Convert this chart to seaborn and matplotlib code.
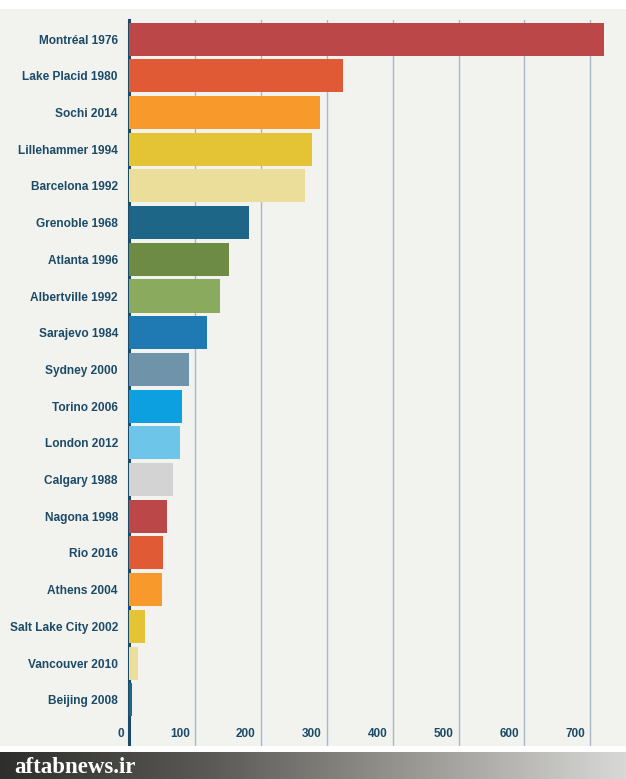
import numpy as np
import matplotlib
matplotlib.use("Agg")
import matplotlib.pyplot as plt
import matplotlib.transforms as mtransforms
import seaborn as sns

sns.set_theme(style="white")
plt.rcParams['font.family'] = ['Liberation Sans', 'DejaVu Sans']

cities = ['Montréal 1976', 'Lake Placid 1980', 'Sochi 2014', 'Lillehammer 1994',
          'Barcelona 1992', 'Grenoble 1968', 'Atlanta 1996', 'Albertville 1992',
          'Sarajevo 1984', 'Sydney 2000', 'Torino 2006', 'London 2012',
          'Calgary 1988', 'Nagona 1998', 'Rio 2016', 'Athens 2004',
          'Salt Lake City 2002', 'Vancouver 2010', 'Beijing 2008']
values = [721, 325, 290, 278, 267, 182, 152, 138, 118, 91, 80, 77, 66, 57, 52, 50, 25, 14, 4]
colors = ['#BC4749', '#E05A36', '#F7992B', '#E4C334', '#EBDD9A', '#1E6687',
          '#6E8B45', '#8AAA5E', '#1F79B3', '#6F93A8', '#0CA0E0', '#6EC5EA',
          '#D3D3D3', '#BC4749', '#E05A36', '#F7992B', '#E4C334', '#EBDD9A', '#1E6687']
xticks = [0, 100, 200, 300, 400, 500, 600, 700]

bg = '#F2F2EE'
navy = '#1C4B68'

fig = plt.figure(figsize=(6.26, 7.79), dpi=100, facecolor=bg)
ax = fig.add_axes([129 / 626, 33 / 779, 1 - 129 / 626, 726 / 779])
ax.set_facecolor(bg)

sns.barplot(x=values, y=cities, hue=cities, palette=colors, legend=False,
            width=0.9, saturation=1, linewidth=0, ax=ax, zorder=3)

ax.set_xlim(0, 754)
ax.set_ylim(19.26, -0.52)
ax.set_xticks(xticks)
ax.grid(axis='x', color='#A7B9C6', linewidth=1, zorder=0)
ax.grid(axis='y', visible=False)
for s in ['top', 'right', 'bottom']:
    ax.spines[s].set_visible(False)
ax.spines['left'].set_color(navy)
ax.spines['left'].set_linewidth(2.2)
ax.spines['left'].set_zorder(2)

ax.set_xlabel('')
ax.set_ylabel('')
ax.tick_params(axis='y', length=0, pad=8, labelsize=8.6, labelcolor=navy)
ax.tick_params(axis='x', length=0, pad=-13, labelsize=8.5, labelcolor=navy)
for lbl in ax.get_yticklabels():
    lbl.set_fontweight('bold')
offset = mtransforms.ScaledTranslation(-5 / 100, 0, fig.dpi_scale_trans)
for lbl in ax.get_xticklabels():
    lbl.set_fontweight('bold')
    lbl.set_horizontalalignment('right')
    lbl.set_transform(lbl.get_transform() + offset)

# white strips top and bottom
fig.patches.append(plt.Rectangle((0, 1 - 9 / 779), 1, 9 / 779, transform=fig.transFigure,
                                 facecolor='white', edgecolor='none', zorder=0))
fig.patches.append(plt.Rectangle((0, 27 / 779), 1, 6 / 779, transform=fig.transFigure,
                                 facecolor='white', edgecolor='none', zorder=0))

# footer band
fax = fig.add_axes([0, 0, 1, 27 / 779])
grad = np.linspace(0, 1, 256).reshape(1, -1)
fax.imshow(grad, aspect='auto', cmap=matplotlib.colors.LinearSegmentedColormap.from_list(
    'foot', ['#2E2E2C', '#5A5955', '#9A9994', '#D8D8D6']), extent=[0, 1, 0, 1])
fax.set_axis_off()
fax.text(0.022, 0.42, 'aftabnews.ir', color='white', fontsize=16.5, fontweight='bold',
         family=['Liberation Serif', 'DejaVu Serif'], va='center', ha='left')

fig.savefig('out.png', dpi=100, facecolor=bg)
